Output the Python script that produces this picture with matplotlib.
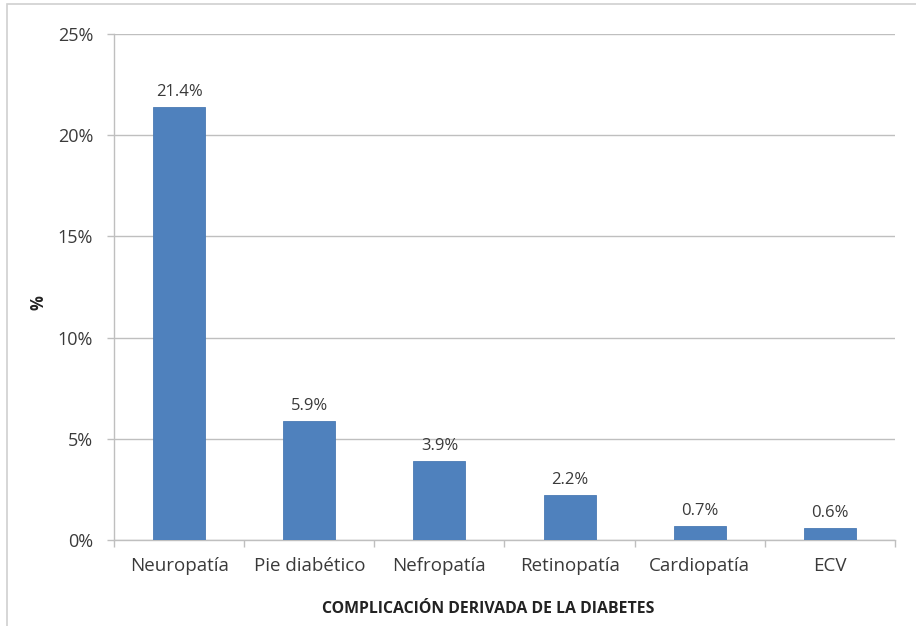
import numpy as np
import matplotlib.pyplot as plt
from matplotlib.patches import Rectangle

# Complicaciones derivadas de la diabetes (%)
categorias = ["Neuropatía", "Pie diabético", "Nefropatía", "Retinopatía", "Cardiopatía", "ECV"]
valores = [21.4, 5.9, 3.9, 2.2, 0.7, 0.6]
ticks_y = [0, 5, 10, 15, 20, 25]

plt.rcParams['font.family'] = ['Open Sans', 'DejaVu Sans']
texto = '#3a3a3a'
gris = '#bfbfbf'

fig = plt.figure(figsize=(9.16, 6.26), dpi=100)
W, H = 916, 626
ax = fig.add_axes([114 / W, 86 / H, (895 - 114) / W, (540 - 34) / H])

# marco exterior del gráfico
fig.patches.append(Rectangle((7 / W, -0.01), 1.0, 1 + 0.01 - 4 / H,
                             transform=fig.transFigure, fill=False,
                             edgecolor='#d0d0d0', linewidth=1.2))

x = np.arange(len(categorias))
ax.bar(x, valores, width=0.4, color='#4f81bd', edgecolor='#4a7ab4', linewidth=0.6, zorder=3)

for xi, v in zip(x, valores):
    ax.text(xi, v + 0.35, f"{v:.1f}%", ha='center', va='bottom', fontsize=12, color=texto)

ax.set_xlim(-0.5, len(categorias) - 0.5)
ax.set_ylim(0, 25)
ax.set_yticks(ticks_y)
ax.set_yticklabels([f"{t}%" for t in ticks_y], fontsize=13, color=texto)
ax.yaxis.grid(True, color=gris, linewidth=1.0, zorder=0)

# categorías como etiquetas, marcas en los límites entre barras
ax.set_xticks(np.arange(len(categorias) + 1) - 0.5)
ax.set_xticklabels([])
ax.set_xticks(x, minor=True)
ax.set_xticklabels(categorias, minor=True, fontsize=13.5, color=texto)
ax.tick_params(axis='x', which='major', length=5, color=gris, width=1.0)
ax.tick_params(axis='x', which='minor', length=0, pad=12)
ax.tick_params(axis='y', length=5, color=gris, width=1.0, pad=10)

for s in ['top', 'right']:
    ax.spines[s].set_visible(False)
for s in ['left', 'bottom']:
    ax.spines[s].set_color(gris)
    ax.spines[s].set_linewidth(1.0)

ax.set_xlabel("COMPLICACIÓN DERIVADA DE LA DIABETES", fontsize=11.4, fontweight='bold',
              color='#222222')
ax.xaxis.set_label_coords((488.5 - 114) / (895 - 114), (540 - 601) / (540 - 34))
ax.set_ylabel("%", fontsize=12, fontweight='bold', color='#222222')
ax.yaxis.set_label_coords((48 - 114) / (895 - 114), 0.47)

fig.savefig("out.png", dpi=100, facecolor='white')
